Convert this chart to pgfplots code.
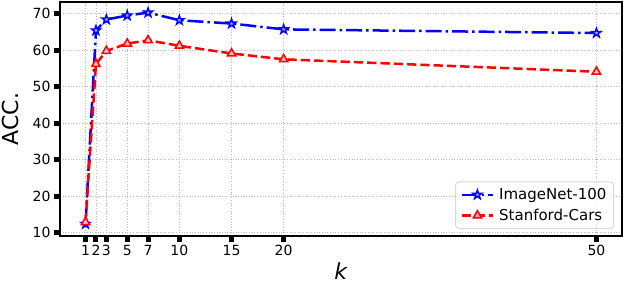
\documentclass[border=0pt]{standalone}
\usepackage{fontspec}
\setmainfont{DejaVu Sans}
\usepackage{pgfplots}
\pgfplotsset{compat=1.18}
\pgfdeclareplotmark{fstar}{%
  \pgfpathmoveto{\pgfpointpolar{90}{\pgfplotmarksize}}%
  \pgfpathlineto{\pgfpointpolar{126}{0.382\pgfplotmarksize}}%
  \pgfpathlineto{\pgfpointpolar{162}{\pgfplotmarksize}}%
  \pgfpathlineto{\pgfpointpolar{198}{0.382\pgfplotmarksize}}%
  \pgfpathlineto{\pgfpointpolar{234}{\pgfplotmarksize}}%
  \pgfpathlineto{\pgfpointpolar{270}{0.382\pgfplotmarksize}}%
  \pgfpathlineto{\pgfpointpolar{306}{\pgfplotmarksize}}%
  \pgfpathlineto{\pgfpointpolar{342}{0.382\pgfplotmarksize}}%
  \pgfpathlineto{\pgfpointpolar{18}{\pgfplotmarksize}}%
  \pgfpathlineto{\pgfpointpolar{54}{0.382\pgfplotmarksize}}%
  \pgfpathclose
  \pgfusepathqfillstroke}
\begin{document}
\begin{tikzpicture}
\begin{axis}[
  scale only axis,
  width=562pt, height=234pt,
  xmin=-1.45, xmax=52.45, ymin=9.1, ymax=73.2,
  xtick={1,2,3,5,7,10,15,20,50},
  ytick={10,20,30,40,50,60,70},
  /pgf/number format/assume math mode=true,
  tick label style={font=\fontsize{14}{16}\selectfont},
  tick align=outside,
  xtick pos=bottom, ytick pos=left,
  major tick length=6pt,
  tick style={black, line width=5pt},
  axis line style={black, line width=1.5pt},
  grid=major,
  major grid style={gray!55, line width=0.9pt, dash pattern=on 1pt off 1.7pt},
  xlabel={\textit{k}},
  ylabel={ACC.},
  xlabel style={at={(axis description cs:0.5,-0.1838)}, anchor=base, inner sep=0pt, font=\fontsize{22}{26}\selectfont},
  ylabel style={at={(axis description cs:-0.0730,0.5)}, anchor=south, inner sep=0pt, font=\fontsize{22}{26}\selectfont},
  legend style={at={(axis description cs:0.9858,0.03)}, anchor=south east,
    font=\fontsize{15}{18}\selectfont, draw=gray!30, line width=1pt,
    rounded corners=3pt, fill=white, fill opacity=0.8, text opacity=1,
    inner xsep=5pt, inner ysep=4.5pt, row sep=4pt,
    /tikz/every odd column/.append style={column sep=3pt}},
  legend cell align=left,
  legend image code/.code={\draw[mark repeat=2,mark phase=2] plot coordinates {(0pt,0pt) (15.5pt,0pt) (31pt,0pt)};},
]
\addplot[blue, line width=2.5pt, dash pattern=on 16pt off 4pt on 2.5pt off 4pt,
  mark=fstar, mark size=4.8pt, mark options={solid, line width=1.4pt, fill=blue!35}]
  coordinates {(1,12.4)(2,65.4)(3,68.4)(5,69.5)(7,70.3)(10,68.2)(15,67.3)(20,65.7)(50,64.7)};
\addlegendentry{ImageNet-100}
\addplot[red, line width=2.5pt, dash pattern=on 9.3pt off 4pt,
  mark=triangle*, mark size=4.8pt, mark options={solid, line width=1.5pt, fill=red!25}]
  coordinates {(1,12.9)(2,56.2)(3,59.8)(5,61.8)(7,62.7)(10,61.2)(15,59.1)(20,57.5)(50,54.1)};
\addlegendentry{Stanford-Cars}
\coordinate (sw) at (rel axis cs:0,0);
\coordinate (ne) at (rel axis cs:1,1);
\end{axis}
\pgfresetboundingbox
\useasboundingbox ([shift={(-60pt,-48pt)}]sw) rectangle ([shift={(2pt,2pt)}]ne);
\end{tikzpicture}
\end{document}
